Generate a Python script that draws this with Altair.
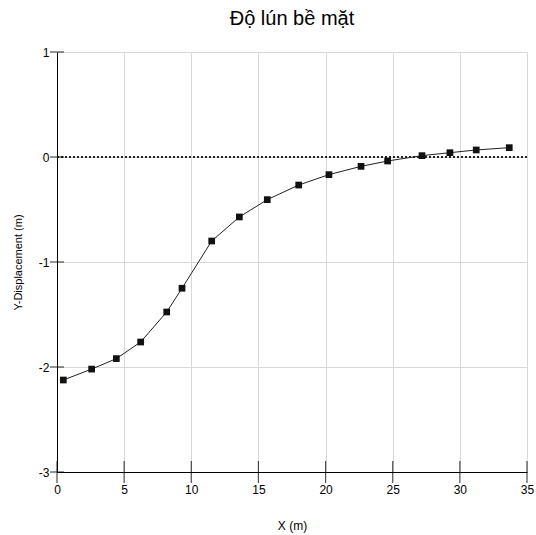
import altair as alt
import pandas as pd

x_vals = [0.47, 2.58, 4.42, 6.23, 8.17, 9.31, 11.52, 13.58, 15.66, 18.0, 20.25, 22.64, 24.62, 27.18, 29.26, 31.22, 33.68]
y_vals = [-2.124, -2.02, -1.92, -1.762, -1.476, -1.25, -0.80, -0.571, -0.406, -0.267, -0.168, -0.089, -0.038, 0.013, 0.041, 0.067, 0.089]
x_ticks = [0, 5, 10, 15, 20, 25, 30, 35]
y_ticks = [1, 0, -1, -2, -3]

df = pd.DataFrame({"x": x_vals, "y": y_vals})
xt = pd.DataFrame({"x": x_ticks})
yt = pd.DataFrame({"y": y_ticks})

FONT = "Liberation Sans Narrow, Liberation Sans, Arial"

xscale = alt.Scale(domain=[0, 35], nice=False, zero=False)
yscale = alt.Scale(domain=[-3, 1], nice=False, zero=False)

xaxis = alt.Axis(values=x_ticks, ticks=False, grid=True, gridColor="#d9d9d9",
                 domainColor="black", labelPadding=12, labelFontSize=12,
                 labelFont=FONT, labelColor="black", title="X (m)",
                 labelExpr="'' + datum.value",
                 titleFont=FONT, titleFontSize=12, titleFontWeight="normal",
                 titleX=235, titleY=53, titleBaseline="middle", titleColor="black",
                 labelFlush=False)
yaxis = alt.Axis(values=y_ticks, ticks=False, grid=True, gridColor="#d9d9d9",
                 domainColor="black", labelPadding=8, labelFontSize=12,
                 labelFont=FONT, labelColor="black", title="Y-Displacement (m)",
                 labelExpr="'' + datum.value",
                 titleFont=FONT, titleFontSize=11, titleFontWeight="normal",
                 titleX=-39, titleY=210, titleAlign="center", titleBaseline="middle",
                 titleAngle=-90, titleColor="black", labelFlush=False)

base = alt.Chart(df).encode(
    x=alt.X("x:Q", scale=xscale, axis=xaxis),
    y=alt.Y("y:Q", scale=yscale, axis=yaxis),
)

zero = alt.Chart(df).mark_rule(color="#222222", strokeDash=[2, 2], strokeWidth=1).encode(
    y=alt.datum(0)
)
line = base.mark_line(color="#222222", strokeWidth=1)
pts = base.mark_square(color="#111111", size=45, opacity=1)

xtk = alt.Chart(xt).mark_tick(orient="vertical", size=22, thickness=1.2, color="black").encode(
    x=alt.X("x:Q", scale=xscale), y=alt.datum(-3)
)
ytk = alt.Chart(yt).mark_tick(orient="horizontal", size=14, thickness=1.2, color="black").encode(
    y=alt.Y("y:Q", scale=yscale), x=alt.datum(0)
)

chart = alt.layer(zero, line, pts, xtk, ytk).properties(
    width=470, height=420,
    title=alt.TitleParams("Độ lún bề mặt", font="Liberation Sans, Arial",
                          fontSize=20, fontWeight="normal", color="black",
                          anchor="middle", offset=17),
    autosize="none",
    padding={"left": 57, "top": 52, "right": 9, "bottom": 63},
).configure_view(stroke=None).configure(background="white")

chart.save("out.html", embed_options={"renderer": "svg", "actions": False})
